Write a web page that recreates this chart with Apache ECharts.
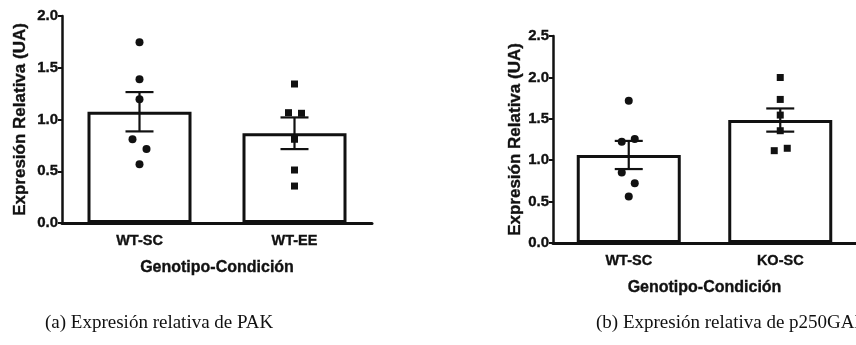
<!DOCTYPE html>
<html><head><meta charset="utf-8">
<script src="https://cdn.jsdelivr.net/npm/echarts@6/dist/echarts.min.js"></script>
<style>html,body{margin:0;padding:0;background:#fff}#c{width:856px;height:345px}</style>
</head><body><div id="c"></div>
<script>
// ---- data ----
const categoriesA = ['WT-SC', 'WT-EE'];
const meansA = [1.075, 0.867];
const semA = [0.19, 0.153];
const pointsA_WTSC = [1.746, 1.388, 1.195, 0.809, 0.715, 0.567];
const pointsA_WTEE = [1.343, 1.066, 1.060, 0.809, 0.512, 0.357];
const jitterA_WTSC = [0, 0, 0, -7, 7, 0];
const jitterA_WTEE = [0, -6, 7, 0, 0, 0];

const categoriesB = ['WT-SC', 'KO-SC'];
const meansB = [1.063, 1.485];
const semB = [0.17, 0.14];
const pointsB_WTSC = [1.717, 1.224, 1.256, 0.850, 0.722, 0.561];
const pointsB_KOSC = [1.999, 1.734, 1.545, 1.356, 1.115, 1.144];
const jitterB_WTSC = [0, -7, 6, -7, 6, 0];
const jitterB_KOSC = [0, 0, 0, 0, -6, 7];

const yTicksA = { min: 0, max: 2.0, interval: 0.5 };
const yTicksB = { min: 0, max: 2.5, interval: 0.5 };
const yName = 'Expresión Relativa (UA)';
const xName = 'Genotipo-Condición';
const captionA = '(a) Expresión relativa de PAK';
const captionB = '(b) Expresión relativa de p250GAL';

// ---- chart ----
const INK = '#111';
const FONT = 'Liberation Sans, Arial, sans-serif';
const HEAVY = { textBorderColor: INK, textBorderWidth: 0.35 };
const chart = echarts.init(document.getElementById('c'), null, { renderer: 'canvas' });

function xAxisDef(gi, cats) {
  return {
    gridIndex: gi, type: 'category', data: cats,
    name: xName, nameLocation: 'middle', nameGap: 37,
    nameTextStyle: Object.assign({ color: INK, fontFamily: FONT, fontWeight: 'bold', fontSize: 16 }, HEAVY),
    axisLine: { lineStyle: { color: INK, width: 3 } },
    axisTick: { alignWithLabel: true, length: 4, lineStyle: { color: INK, width: 2 } },
    axisLabel: Object.assign({ color: INK, fontFamily: FONT, fontWeight: 'bold', fontSize: 14.5, margin: 10 }, HEAVY),
    splitLine: { show: false }
  };
}
function yAxisDef(gi, t, gap) {
  return {
    gridIndex: gi, type: 'value', min: t.min, max: t.max, interval: t.interval,
    name: yName, nameLocation: 'middle', nameGap: gap, nameRotate: 90,
    nameTextStyle: Object.assign({ color: INK, fontFamily: FONT, fontWeight: 'bold', fontSize: 17 }, HEAVY),
    axisLine: { show: true, lineStyle: { color: INK, width: 2.5 } },
    axisTick: { show: true, length: 4, lineStyle: { color: INK, width: 2 } },
    axisLabel: Object.assign({ color: INK, fontFamily: FONT, fontWeight: 'bold', fontSize: 15, margin: 4,
      formatter: v => v.toFixed(1) }, HEAVY),
    splitLine: { show: false }
  };
}
function barSeries(gi, means) {
  return {
    type: 'bar', xAxisIndex: gi, yAxisIndex: gi, data: means, barWidth: 104,
    itemStyle: { color: '#fff', borderColor: INK, borderWidth: 3 }, z: 2, silent: true
  };
}
function scatterSeries(gi, catIdx, vals, jit, symbol, size) {
  return {
    type: 'scatter', xAxisIndex: gi, yAxisIndex: gi, symbol: symbol, symbolSize: size,
    itemStyle: { color: INK, opacity: 1 }, z: 4, silent: true,
    data: vals.map((v, i) => ({ value: [catIdx, v], symbolOffset: [jit[i], 0] }))
  };
}
function errSeries(gi, means, sems) {
  return {
    type: 'custom', xAxisIndex: gi, yAxisIndex: gi, z: 5, silent: true,
    data: means.map((m, i) => [i, m, sems[i]]),
    renderItem: function (params, api) {
      const x = api.value(0), m = api.value(1), s = api.value(2);
      const top = api.coord([x, m + s]);
      const bot = api.coord([x, m - s]);
      const hw = 14;
      const st = { stroke: INK, lineWidth: 2.2 };
      return { type: 'group', children: [
        { type: 'line', shape: { x1: top[0], y1: top[1], x2: bot[0], y2: bot[1] }, style: st },
        { type: 'line', shape: { x1: top[0] - hw, y1: top[1], x2: top[0] + hw, y2: top[1] }, style: st },
        { type: 'line', shape: { x1: bot[0] - hw, y1: bot[1], x2: bot[0] + hw, y2: bot[1] }, style: st }
      ]};
    }
  };
}

chart.setOption({
  backgroundColor: '#fff',
  animation: false,
  title: [
    { text: captionA, left: 40, top: 309,
      textStyle: { fontFamily: 'Liberation Serif, serif', fontWeight: 'normal', fontSize: 19, color: INK } },
    { text: captionB, left: 591, top: 309,
      textStyle: { fontFamily: 'Liberation Serif, serif', fontWeight: 'normal', fontSize: 19, color: INK } }
  ],
  grid: [
    { left: 62, top: 16, width: 310, height: 207, containLabel: false },
    { left: 553, top: 36, width: 310, height: 207, containLabel: false }
  ],
  xAxis: [xAxisDef(0, categoriesA), xAxisDef(1, categoriesB)],
  yAxis: [yAxisDef(0, yTicksA, 33), yAxisDef(1, yTicksB, 27)],
  series: [
    barSeries(0, meansA),
    scatterSeries(0, 0, pointsA_WTSC, jitterA_WTSC, 'circle', 8),
    scatterSeries(0, 1, pointsA_WTEE, jitterA_WTEE, 'rect', 7),
    errSeries(0, meansA, semA),
    barSeries(1, meansB),
    scatterSeries(1, 0, pointsB_WTSC, jitterB_WTSC, 'circle', 8),
    scatterSeries(1, 1, pointsB_KOSC, jitterB_KOSC, 'rect', 7),
    errSeries(1, meansB, semB)
  ]
});
</script></body></html>
